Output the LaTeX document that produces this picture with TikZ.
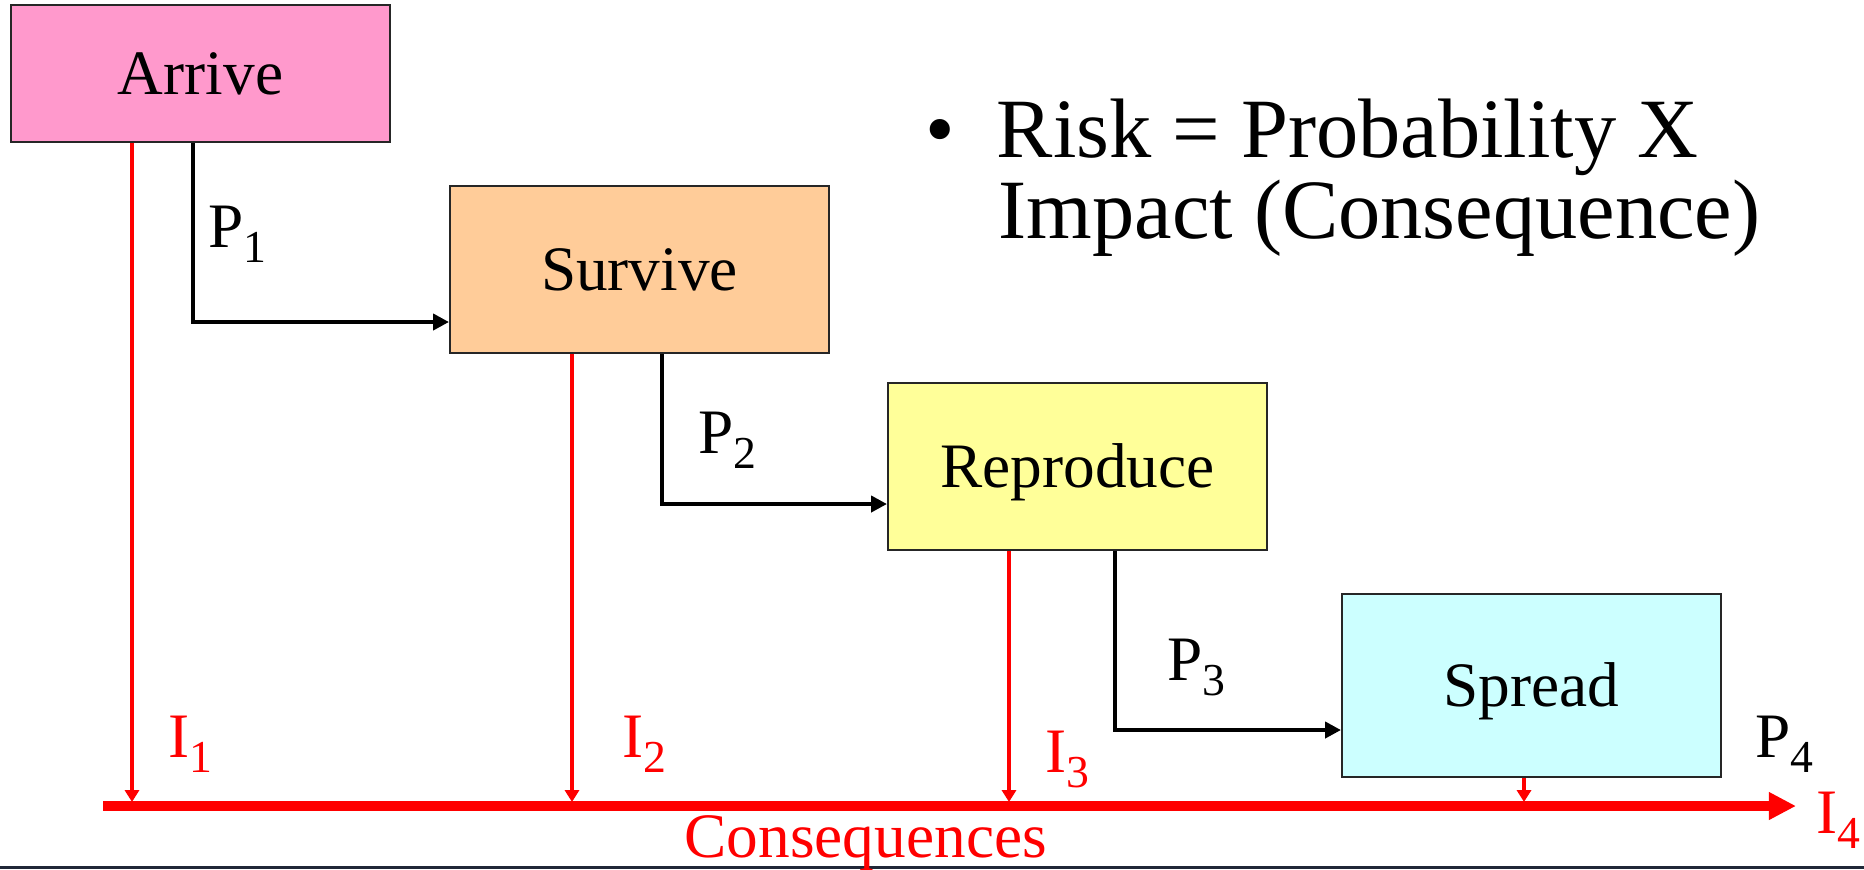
\documentclass[tikz,border=0pt]{standalone}
\usepackage{fontspec}
\setmainfont{Liberation Serif}
\usetikzlibrary{arrows.meta}
\newcommand\subx[1]{\raisebox{-4.5pt}{\fontsize{13}{13}\selectfont #1}}
\definecolor{arrivefill}{HTML}{FF99CC}
\definecolor{survivefill}{HTML}{FFCC99}
\definecolor{reprofill}{HTML}{FFFF99}
\definecolor{spreadfill}{HTML}{CCFFFF}
\definecolor{stripcol}{HTML}{202838}
\begin{document}
\begin{tikzpicture}[x=0.01cm,y=-0.01cm,
  box/.style={draw=black!85,line width=0.5pt,minimum width=3.79cm,inner sep=0pt,
    font=\fontsize{18}{18}\selectfont,text height=11.9pt,text depth=0pt},
  pconn/.style={line width=1.2pt,-{Triangle[length=4.5pt,width=4.5pt]}},
  iconn/.style={red,line width=1.2pt,-{Triangle[length=3.4pt,width=4pt]}},
  axisln/.style={red,line width=2.6pt,-{Triangle[length=7.7pt,width=7.4pt]}},
  lbl/.style={inner sep=0pt,anchor=base west,font=\fontsize{18}{18}\selectfont},
  risk/.style={inner sep=0pt,anchor=base west,font=\fontsize{24}{24}\selectfont},
]
\useasboundingbox (0,0) rectangle (1864,869);
\fill[white] (0,0) rectangle (1864,869);
\fill[stripcol] (0,866) rectangle (1864,869);

% boxes
\node[box,fill=arrivefill,minimum height=1.37cm] (arrive) at (200.5,73.5) {Arrive};
\node[box,fill=survivefill,minimum height=1.67cm] (survive) at (639.5,269.5) {Survive};
\node[box,fill=reprofill,minimum height=1.67cm] (reproduce) at (1077.5,466.5) {Reproduce};
\node[box,fill=spreadfill,minimum height=1.83cm] (spread) at (1531.5,685.5) {Spread};

% axis
\coordinate (axs) at (103,806);
\coordinate (axe) at (1796,806);
\draw[axisln] (axs) -- (axe);

% probability connectors
\coordinate (c1) at (193,322);
\coordinate (c2) at (662,504);
\coordinate (c3) at (1115,730);
\draw[pconn] (c1 |- arrive.south) -- (c1) -- (c1 -| survive.west);
\draw[pconn] (c2 |- survive.south) -- (c2) -- (c2 -| reproduce.west);
\draw[pconn] (c3 |- reproduce.south) -- (c3) -- (c3 -| spread.west);

% impact connectors
\coordinate (i1) at (132,802);
\coordinate (i2) at (572,802);
\coordinate (i3) at (1009,802);
\coordinate (i4) at (1524,802);
\draw[iconn] (i1 |- arrive.south) -- (i1);
\draw[iconn] (i2 |- survive.south) -- (i2);
\draw[iconn] (i3 |- reproduce.south) -- (i3);
\draw[iconn] (i4 |- spread.south) -- (i4);

% labels
\node[lbl] (p1) at (208,247) {P\subx{1}};
\node[lbl] (p2) at (698,453) {P\subx{2}};
\node[lbl] (p3) at (1167,680) {P\subx{3}};
\node[lbl] (p4) at (1755,757) {P\subx{4}};
\node[lbl,red] (l1) at (168,757) {I\subx{1}};
\node[lbl,red] (l2) at (622,757) {I\subx{2}};
\node[lbl,red] (l3) at (1045,772) {I\subx{3}};
\node[lbl,red] (l4) at (1816,833) {I\subx{4}};
\node[lbl,red] (cons) at (684,857) {Consequences};

% risk text
\node[risk,anchor=base] (bul) at (940,157) {•};
\node[risk] (rk1) at (996,157) {Risk = Probability X};
\node[risk] (rk2) at (998,238) {Impact (Consequence)};
\end{tikzpicture}
\end{document}
